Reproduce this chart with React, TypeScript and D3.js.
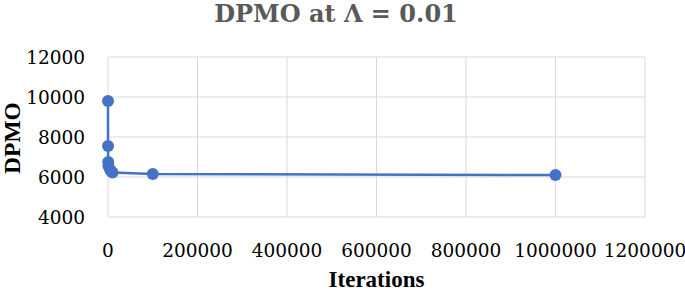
import { useMemo } from "react";
import * as d3 from "d3";

const iterations = [10, 100, 500, 1000, 5000, 10000, 100000, 1000000];
const dpmo = [9800, 7550, 6750, 6550, 6350, 6230, 6150, 6100];
const xTicks = [0, 200000, 400000, 600000, 800000, 1000000, 1200000];
const yTicks = [4000, 6000, 8000, 10000, 12000];

const title = "DPMO at \u039B = 0.01";
const xTitle = "Iterations";
const yTitle = "DPMO";

const font = "'Liberation Serif', serif";
const serif2 = "'DejaVu Serif', serif";

export default function App() {
  const dims = {
    width: 685,
    height: 292,
    margins: { top: 57, right: 40, bottom: 75, left: 108 },
  };
  const boundedWidth = 645 - dims.margins.left;
  const boundedHeight = 217 - dims.margins.top;

  const xScale = useMemo(
    () => d3.scaleLinear().domain([0, 1200000]).range([0, boundedWidth]),
    [boundedWidth]
  );
  const yScale = useMemo(
    () => d3.scaleLinear().domain([4000, 12000]).range([boundedHeight, 0]),
    [boundedHeight]
  );

  const points = iterations.map((x, i) => ({ x, y: dpmo[i] }));
  const linePath =
    d3
      .line<{ x: number; y: number }>()
      .x((d) => xScale(d.x))
      .y((d) => yScale(d.y))(points) || "";

  return (
    <svg
      width={dims.width}
      height={dims.height}
      style={{ position: "absolute", left: 0, top: 0, background: "#fff" }}
    >
      <text
        x={336}
        y={22}
        textAnchor="middle"
        fontFamily={serif2}
        fontWeight="bold"
        fontSize={24}
        fill="#595959"
      >
        {title}
      </text>
      <g transform={`translate(${dims.margins.left},${dims.margins.top})`}>
        {yTicks.map((t) => (
          <g key={"y" + t}>
            <line
              x1={0}
              x2={boundedWidth}
              y1={yScale(t)}
              y2={yScale(t)}
              stroke="#d9d9d9"
              strokeWidth={1}
            />
            <text
              x={-23}
              y={yScale(t) + 7}
              textAnchor="end"
              fontFamily={serif2}
              fontSize={18.5}
              fill="#000"
            >
              {t}
            </text>
          </g>
        ))}
        {xTicks.map((t) => (
          <g key={"x" + t}>
            <line
              x1={xScale(t)}
              x2={xScale(t)}
              y1={0}
              y2={boundedHeight}
              stroke="#d9d9d9"
              strokeWidth={1}
            />
            <text
              x={xScale(t)}
              y={boundedHeight + 40}
              textAnchor="middle"
              fontFamily={serif2}
              fontSize={18.5}
              fill="#000"
            >
              {t}
            </text>
          </g>
        ))}
        <path d={linePath} fill="none" stroke="#4472C4" strokeWidth={2.5} />
        {points.map((p, i) => (
          <circle
            key={i}
            cx={xScale(p.x)}
            cy={yScale(p.y)}
            r={6}
            fill="#4472C4"
          />
        ))}
        <text
          x={boundedWidth / 2}
          y={boundedHeight + 70}
          textAnchor="middle"
          fontFamily={font}
          fontWeight="bold"
          fontSize={23}
          fill="#000"
        >
          {xTitle}
        </text>
      </g>
      <text
        transform="translate(20,138) rotate(-90)"
        textAnchor="middle"
        fontFamily={font}
        fontWeight="bold"
        fontSize={23.5}
        fill="#000"
      >
        {yTitle}
      </text>
    </svg>
  );
}
